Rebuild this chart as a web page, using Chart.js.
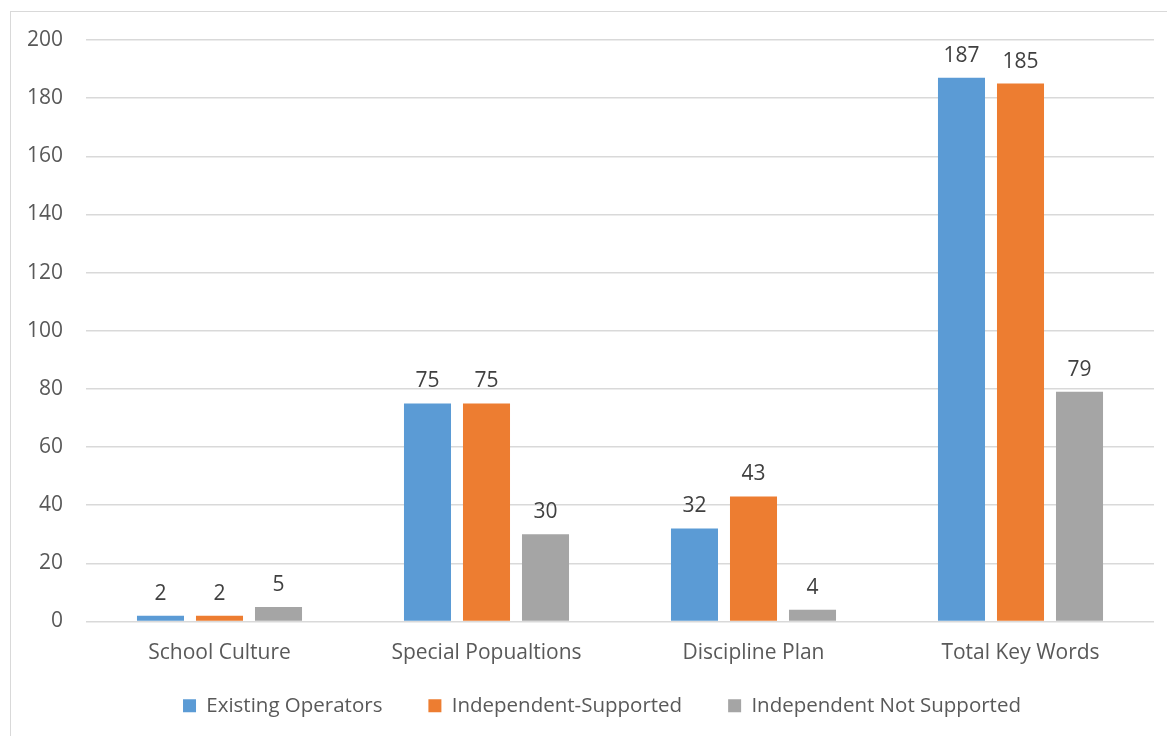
<!DOCTYPE html>
<html>
<head>
<meta charset="utf-8">
<script src="https://cdn.jsdelivr.net/npm/chart.js@4.4.0/dist/chart.umd.min.js"></script>
<style>
  html, body { margin: 0; padding: 0; background: #ffffff; overflow: hidden; }
  #frame {
    position: absolute; left: 10px; top: 11px;
    width: 1200px; height: 800px;
    border: 1px solid #d9d9d9;
  }
  #wrap { position: absolute; left: 0; top: 0; width: 1167px; height: 746px; }
</style>
</head>
<body>
<div id="frame"></div>
<div id="wrap"><canvas id="keyword-chart"></canvas></div>
<script>
// ============= DATA =============
const categories = ['School Culture', 'Special Popualtions', 'Discipline Plan', 'Total Key Words'];
const seriesNames = ['Existing Operators', 'Independent-Supported', 'Independent Not Supported'];
const existingOperators = [2, 75, 32, 187];
const independentSupported = [2, 75, 43, 185];
const independentNotSupported = [5, 30, 4, 79];
const yTicks = [0, 20, 40, 60, 80, 100, 120, 140, 160, 180, 200];

const seriesColors = ['#5b9bd5', '#ed7d31', '#a5a5a5'];
const textColor = '#595959';
const fontFamily = '"Open Sans", "Liberation Sans", sans-serif';
const fontSize = 21;

// Value labels drawn above each bar
const barValueLabels = {
  id: 'barValueLabels',
  afterDatasetsDraw(chart) {
    const ctx = chart.ctx;
    ctx.save();
    ctx.font = fontSize + 'px ' + fontFamily;
    ctx.fillStyle = '#404040';
    ctx.textAlign = 'center';
    ctx.textBaseline = 'alphabetic';
    chart.data.datasets.forEach((ds, i) => {
      const meta = chart.getDatasetMeta(i);
      meta.data.forEach((bar, j) => {
        ctx.fillText(String(ds.data[j]), bar.x, bar.y - 16);
      });
    });
    ctx.restore();
  }
};

// Nudge the legend row a little to the right and up after layout
const legendNudge = {
  id: 'legendNudge',
  afterLayout(chart) {
    const lg = chart.legend;
    if (!lg) return;
    lg.left += 15;
    lg.right += 15;
    lg.top -= 18;
    lg.bottom -= 18;
  }
};

const ctx = document.getElementById('keyword-chart').getContext('2d');

const keywordChart = new Chart(ctx, {
  type: 'bar',
  data: {
    labels: categories,
    datasets: [existingOperators, independentSupported, independentNotSupported].map((values, i) => ({
      label: seriesNames[i],
      data: values,
      backgroundColor: seriesColors[i],
      borderWidth: 0,
      categoryPercentage: 0.663,
      barPercentage: 0.797
    }))
  },
  options: {
    responsive: true,
    maintainAspectRatio: false,
    animation: false,
    layout: {
      padding: { left: 20, right: 13, top: 40, bottom: 2 }
    },
    scales: {
      x: {
        grid: { display: false, drawTicks: false },
        border: { display: false },
        ticks: {
          color: textColor,
          font: { family: fontFamily, size: fontSize },
          padding: 19,
          maxRotation: 0,
          autoSkip: false
        },
        afterFit(scale) { scale.height = 46; }
      },
      y: {
        min: 0,
        max: 200,
        afterBuildTicks(scale) { scale.ticks = yTicks.map(v => ({ value: v })); },
        grid: { color: '#d9d9d9', lineWidth: 1.5, drawTicks: false },
        border: { display: false },
        ticks: {
          color: textColor,
          font: { family: fontFamily, size: fontSize },
          padding: 23
        },
        afterFit(scale) { scale.width = 66; }
      }
    },
    plugins: {
      legend: {
        position: 'bottom',
        labels: {
          color: textColor,
          font: { family: fontFamily, size: 20.5 },
          boxWidth: 13,
          boxHeight: 13,
          padding: 46
        }
      },
      tooltip: { enabled: false }
    }
  },
  plugins: [barValueLabels, legendNudge]
});
</script>
</body>
</html>
